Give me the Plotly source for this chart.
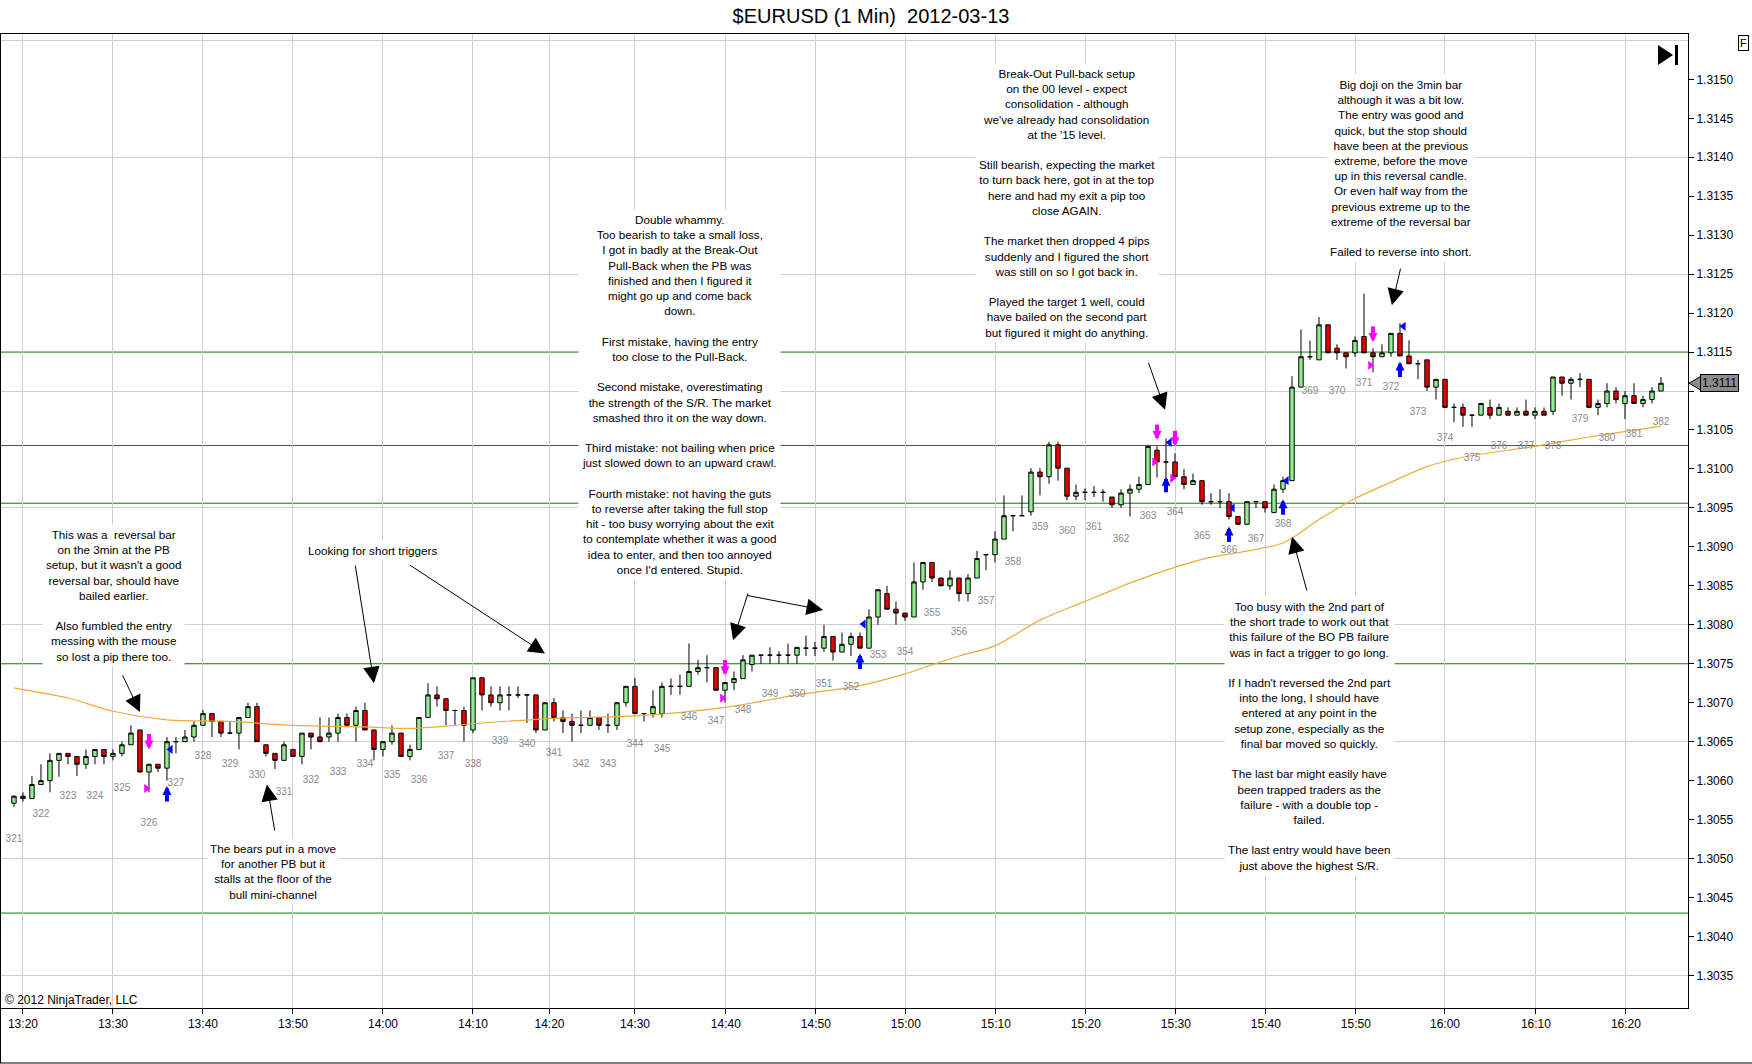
import plotly.graph_objects as go

W, H = 1752, 1064
# plot frame in pixels: left, top, right, bottom
PL, PT, PR, PB = 1, 34, 1688, 1008
FONT = "Liberation Sans, Arial, sans-serif"
GRID = "#cfcfcf"

# ---- 1 min bars, index 0 = 13:19 ----
OPEN = [
    1.30571, 1.30580, 1.30577, 1.30595, 1.30600, 1.30626, 1.30635, 1.30631, 1.30621, 1.30631,
    1.30640, 1.30631, 1.30635, 1.30646, 1.30665, 1.30611, 1.30621, 1.30616, 1.30650, 1.30650,
    1.30656, 1.30671, 1.30686, 1.30676, 1.30661, 1.30661, 1.30681, 1.30695, 1.30646, 1.30635,
    1.30626, 1.30640, 1.30631, 1.30661, 1.30656, 1.30656, 1.30661, 1.30681, 1.30671, 1.30690,
    1.30665, 1.30640, 1.30650, 1.30661, 1.30631, 1.30640, 1.30681, 1.30710, 1.30705, 1.30690,
    1.30690, 1.30665, 1.30732, 1.30710, 1.30700, 1.30710, 1.30710, 1.30710, 1.30710, 1.30665,
    1.30700, 1.30681, 1.30676, 1.30671, 1.30671, 1.30681, 1.30671, 1.30671, 1.30700, 1.30721,
    1.30686, 1.30686, 1.30686, 1.30721, 1.30721, 1.30721, 1.30740, 1.30745, 1.30745, 1.30716,
    1.30726, 1.30731, 1.30749, 1.30761, 1.30761, 1.30761, 1.30761, 1.30761, 1.30770, 1.30770,
    1.30770, 1.30785, 1.30765, 1.30775, 1.30785, 1.30770, 1.30810, 1.30840, 1.30820, 1.30815,
    1.30810, 1.30855, 1.30880, 1.30860, 1.30850, 1.30860, 1.30840, 1.30860, 1.30890, 1.30890,
    1.30910, 1.30940, 1.30940, 1.30945, 1.30996, 1.30990, 1.31031, 1.31001, 1.30965, 1.30970,
    1.30970, 1.30970, 1.30964, 1.30954, 1.30969, 1.30974, 1.30980, 1.31024, 1.31009, 1.31009,
    1.30990, 1.30980, 1.30985, 1.30958, 1.30958, 1.30958, 1.30939, 1.30929, 1.30958, 1.30958,
    1.30944, 1.30974, 1.30985, 1.31105, 1.31144, 1.31140, 1.31185, 1.31155, 1.31149, 1.31149,
    1.31170, 1.31149, 1.31144, 1.31149, 1.31174, 1.31145, 1.31135, 1.31140, 1.31105, 1.31115,
    1.31079, 1.31079, 1.31069, 1.31069, 1.31079, 1.31069, 1.31074, 1.31069, 1.31074, 1.31069,
    1.31074, 1.31074, 1.31118, 1.31110, 1.31115, 1.31115, 1.31079, 1.31084, 1.31100, 1.31084,
    1.31094, 1.31084, 1.31089, 1.31100,
]
HIGH = [
    1.30581, 1.30585, 1.30606, 1.30621, 1.30635, 1.30635, 1.30635, 1.30631, 1.30640, 1.30640,
    1.30640, 1.30640, 1.30650, 1.30671, 1.30665, 1.30621, 1.30621, 1.30656, 1.30656, 1.30665,
    1.30676, 1.30691, 1.30686, 1.30676, 1.30676, 1.30681, 1.30700, 1.30700, 1.30646, 1.30635,
    1.30650, 1.30640, 1.30661, 1.30661, 1.30681, 1.30681, 1.30686, 1.30686, 1.30695, 1.30700,
    1.30665, 1.30650, 1.30671, 1.30661, 1.30646, 1.30681, 1.30725, 1.30721, 1.30705, 1.30691,
    1.30695, 1.30732, 1.30732, 1.30721, 1.30721, 1.30721, 1.30721, 1.30710, 1.30710, 1.30700,
    1.30706, 1.30690, 1.30686, 1.30690, 1.30690, 1.30681, 1.30686, 1.30700, 1.30721, 1.30732,
    1.30686, 1.30716, 1.30726, 1.30731, 1.30736, 1.30776, 1.30755, 1.30761, 1.30745, 1.30726,
    1.30740, 1.30761, 1.30761, 1.30761, 1.30771, 1.30766, 1.30776, 1.30771, 1.30786, 1.30778,
    1.30800, 1.30785, 1.30790, 1.30790, 1.30790, 1.30820, 1.30845, 1.30850, 1.30830, 1.30815,
    1.30880, 1.30880, 1.30880, 1.30860, 1.30870, 1.30860, 1.30865, 1.30895, 1.30890, 1.30920,
    1.30966, 1.30940, 1.30966, 1.31001, 1.31001, 1.31035, 1.31035, 1.31001, 1.30980, 1.30975,
    1.30978, 1.30974, 1.30964, 1.30974, 1.30980, 1.30990, 1.31029, 1.31029, 1.31039, 1.31020,
    1.31000, 1.30994, 1.30985, 1.30969, 1.30974, 1.30969, 1.30939, 1.30958, 1.30958, 1.30958,
    1.30980, 1.30990, 1.31119, 1.31179, 1.31165, 1.31195, 1.31185, 1.31160, 1.31149, 1.31170,
    1.31225, 1.31155, 1.31160, 1.31174, 1.31187, 1.31165, 1.31140, 1.31140, 1.31115, 1.31115,
    1.31084, 1.31084, 1.31069, 1.31084, 1.31089, 1.31084, 1.31079, 1.31079, 1.31089, 1.31079,
    1.31079, 1.31118, 1.31118, 1.31118, 1.31123, 1.31115, 1.31089, 1.31110, 1.31105, 1.31100,
    1.31110, 1.31094, 1.31105, 1.31118,
]
LOW = [
    1.30566, 1.30573, 1.30577, 1.30595, 1.30585, 1.30605, 1.30621, 1.30606, 1.30615, 1.30621,
    1.30621, 1.30626, 1.30631, 1.30646, 1.30611, 1.30585, 1.30611, 1.30600, 1.30635, 1.30650,
    1.30650, 1.30671, 1.30656, 1.30656, 1.30661, 1.30640, 1.30681, 1.30650, 1.30631, 1.30615,
    1.30626, 1.30631, 1.30621, 1.30640, 1.30650, 1.30650, 1.30650, 1.30671, 1.30650, 1.30665,
    1.30626, 1.30631, 1.30646, 1.30631, 1.30626, 1.30640, 1.30681, 1.30695, 1.30671, 1.30671,
    1.30650, 1.30661, 1.30690, 1.30695, 1.30690, 1.30690, 1.30706, 1.30674, 1.30661, 1.30665,
    1.30676, 1.30661, 1.30650, 1.30661, 1.30671, 1.30665, 1.30661, 1.30665, 1.30695, 1.30686,
    1.30676, 1.30681, 1.30681, 1.30710, 1.30710, 1.30721, 1.30736, 1.30726, 1.30716, 1.30700,
    1.30716, 1.30731, 1.30740, 1.30750, 1.30750, 1.30750, 1.30750, 1.30750, 1.30760, 1.30760,
    1.30765, 1.30754, 1.30765, 1.30760, 1.30770, 1.30770, 1.30800, 1.30820, 1.30800, 1.30805,
    1.30810, 1.30845, 1.30855, 1.30850, 1.30845, 1.30830, 1.30830, 1.30860, 1.30870, 1.30880,
    1.30910, 1.30920, 1.30940, 1.30940, 1.30966, 1.30981, 1.30985, 1.30960, 1.30960, 1.30960,
    1.30964, 1.30958, 1.30950, 1.30950, 1.30939, 1.30969, 1.30980, 1.30989, 1.30989, 1.30990,
    1.30974, 1.30980, 1.30954, 1.30954, 1.30950, 1.30935, 1.30929, 1.30929, 1.30950, 1.30944,
    1.30944, 1.30969, 1.30985, 1.31105, 1.31140, 1.31140, 1.31149, 1.31140, 1.31129, 1.31144,
    1.31149, 1.31124, 1.31144, 1.31144, 1.31145, 1.31135, 1.31115, 1.31100, 1.31089, 1.31079,
    1.31060, 1.31054, 1.31054, 1.31069, 1.31064, 1.31069, 1.31069, 1.31069, 1.31069, 1.31064,
    1.31069, 1.31069, 1.31094, 1.31089, 1.31105, 1.31079, 1.31069, 1.31079, 1.31084, 1.31064,
    1.31084, 1.31079, 1.31084, 1.31100,
]
CLOSE = [
    1.30580, 1.30577, 1.30595, 1.30600, 1.30626, 1.30635, 1.30631, 1.30621, 1.30631, 1.30640,
    1.30631, 1.30635, 1.30646, 1.30661, 1.30611, 1.30621, 1.30616, 1.30650, 1.30650, 1.30656,
    1.30671, 1.30686, 1.30676, 1.30661, 1.30661, 1.30681, 1.30695, 1.30650, 1.30635, 1.30626,
    1.30646, 1.30631, 1.30661, 1.30656, 1.30650, 1.30661, 1.30681, 1.30671, 1.30690, 1.30665,
    1.30640, 1.30650, 1.30661, 1.30631, 1.30640, 1.30681, 1.30710, 1.30705, 1.30690, 1.30690,
    1.30671, 1.30732, 1.30710, 1.30700, 1.30710, 1.30710, 1.30710, 1.30710, 1.30665, 1.30700,
    1.30681, 1.30676, 1.30671, 1.30671, 1.30681, 1.30671, 1.30671, 1.30700, 1.30721, 1.30686,
    1.30686, 1.30695, 1.30721, 1.30721, 1.30721, 1.30740, 1.30745, 1.30745, 1.30716, 1.30726,
    1.30731, 1.30755, 1.30761, 1.30761, 1.30761, 1.30761, 1.30761, 1.30771, 1.30770, 1.30770,
    1.30785, 1.30765, 1.30775, 1.30785, 1.30770, 1.30810, 1.30845, 1.30820, 1.30815, 1.30810,
    1.30855, 1.30880, 1.30860, 1.30850, 1.30860, 1.30840, 1.30860, 1.30885, 1.30890, 1.30910,
    1.30940, 1.30940, 1.30940, 1.30996, 1.30990, 1.31031, 1.31001, 1.30965, 1.30970, 1.30970,
    1.30970, 1.30970, 1.30954, 1.30969, 1.30974, 1.30980, 1.31029, 1.31009, 1.31009, 1.30990,
    1.30980, 1.30985, 1.30958, 1.30958, 1.30958, 1.30939, 1.30929, 1.30958, 1.30958, 1.30950,
    1.30974, 1.30985, 1.31105, 1.31144, 1.31144, 1.31185, 1.31149, 1.31149, 1.31144, 1.31165,
    1.31149, 1.31144, 1.31149, 1.31174, 1.31145, 1.31135, 1.31135, 1.31105, 1.31115, 1.31079,
    1.31079, 1.31069, 1.31069, 1.31084, 1.31069, 1.31079, 1.31069, 1.31074, 1.31069, 1.31074,
    1.31069, 1.31118, 1.31110, 1.31115, 1.31115, 1.31079, 1.31084, 1.31100, 1.31089, 1.31094,
    1.31084, 1.31089, 1.31100, 1.31110,
]

# orange moving average, read at a few bars
MA_X = [0, 6, 11, 17, 24, 31, 39, 44, 48, 51, 60, 69, 79, 87, 94, 99, 105, 109, 114, 119,
        125, 132, 141, 145, 149, 153, 157, 161, 169, 175, 183]
MA_Y = [1.30719, 1.30706, 1.30689, 1.30678, 1.30676, 1.30671, 1.30669, 1.30667, 1.30670, 1.30673,
        1.30680, 1.30683, 1.30694, 1.30710, 1.30722, 1.30737, 1.30760, 1.30773, 1.30806, 1.30830,
        1.30858, 1.30884, 1.30905, 1.30935, 1.30962, 1.30983, 1.31003, 1.31015, 1.31029, 1.31041,
        1.31055]

# 3 min bar counter printed under every third bar
COUNT_LABELS = [str(n) for n in range(321, 383)]
COUNT_Y = [
    1.30524, 1.30556, 1.30580, 1.30580, 1.30590, 1.30545, 1.30596, 1.30631, 1.30621, 1.30606,
    1.30585, 1.30600, 1.30611, 1.30621, 1.30606, 1.30600, 1.30631, 1.30621, 1.30650, 1.30646,
    1.30635, 1.30621, 1.30621, 1.30646, 1.30640, 1.30681, 1.30676, 1.30690, 1.30710, 1.30710,
    1.30724, 1.30720, 1.30760, 1.30765, 1.30815, 1.30790, 1.30830, 1.30880, 1.30925, 1.30920,
    1.30925, 1.30909, 1.30939, 1.30944, 1.30913, 1.30895, 1.30909, 1.30929, 1.31100, 1.31100,
    1.31110, 1.31105, 1.31073, 1.31039, 1.31014, 1.31029, 1.31029, 1.31029, 1.31064, 1.31039,
    1.31044, 1.31059,
]

# support / resistance lines
SR_LEVELS = [1.3115, 1.3103, 1.30956, 1.3075, 1.3043]

# executions: short entries (down arrows), long entries (up arrows), exits
SHORT_X = [15, 79, 127, 129, 151]
SHORT_Y = [1.30640, 1.30735, 1.31037, 1.31029, 1.31163]
LONG_X = [17, 94, 128, 135, 141, 154]
LONG_Y = [1.30593, 1.30763, 1.30990, 1.30926, 1.30961, 1.31138]
SHORT_EXIT_X = [14.7, 78.7, 126.7, 128.7, 150.7]
SHORT_EXIT_Y = [1.30590, 1.30706, 1.31009, 1.30988, 1.31133]
LONG_EXIT_X = [17.4, 94.4, 128.4, 135.4, 141.4, 154.4]
LONG_EXIT_Y = [1.30640, 1.30801, 1.31034, 1.30950, 1.30985, 1.31183]

TIME_LABELS = ["13:20", "13:30", "13:40", "13:50", "14:00", "14:10", "14:20", "14:30", "14:40",
               "14:50", "15:00", "15:10", "15:20", "15:30", "15:40", "15:50", "16:00", "16:10", "16:20"]
TIME_POS = [1, 11, 21, 31, 41, 51, 59.5, 69, 79.1, 89.1, 99.1, 109.1, 119.1, 129.1, 139.1,
            149.1, 159.0, 169.1, 179.1]

PRICE_TICKS = [1.3035, 1.3040, 1.3045, 1.3050, 1.3055, 1.3060, 1.3065, 1.3070, 1.3075, 1.3080,
               1.3085, 1.3090, 1.3095, 1.3100, 1.3105, 1.3110, 1.3115, 1.3120, 1.3125, 1.3130,
               1.3135, 1.3140, 1.3145, 1.3150]
# the 1.3110 label sits under the last-price flag
PRICE_TEXT = ["" if abs(p - 1.3110) < 1e-9 else f"{p:.4f}" for p in PRICE_TICKS]

LAST_PRICE = 1.3111
X_RANGE = [-1.44, 186.0]
Y_RANGE = [1.303082, 1.315582]

NOTES = [
    (11.1, 1.30838, "This was a  reversal bar<br>on the 3min at the PB<br>setup, but it wasn't a good<br>"
                    "reversal bar, should have<br>bailed earlier.<br><br>Also fumbled the entry<br>"
                    "messing with the mouse<br>so lost a pip there too."),
    (39.8, 1.30895, "Looking for short triggers"),
    (28.8, 1.30483, "The bears put in a move<br>for another PB but it<br>stalls at the floor of the<br>bull mini-channel"),
    (74.0, 1.31096, "Double whammy.<br>Too bearish to take a small loss,<br>I got in badly at the Break-Out<br>"
                    "Pull-Back when the PB was<br>finished and then I figured it<br>might go up and come back<br>"
                    "down.<br><br>First mistake, having the entry<br>too close to the Pull-Back.<br><br>"
                    "Second mistake, overestimating<br>the strength of the S/R. The market<br>"
                    "smashed thro it on the way down.<br><br>Third mistake: not bailing when price<br>"
                    "just slowed down to an upward crawl.<br><br>Fourth mistake: not having the guts<br>"
                    "to reverse after taking the full stop<br>hit - too busy worrying about the exit<br>"
                    "to contemplate whether it was a good<br>idea to enter, and then too annoyed<br>"
                    "once I'd entered. Stupid."),
    (117.0, 1.31341, "Break-Out Pull-back setup<br>on the 00 level - expect<br>consolidation - although<br>"
                     "we've already had consolidation<br>at the '15 level.<br><br>"
                     "Still bearish, expecting the market<br>to turn back here, got in at the top<br>"
                     "here and had my exit a pip too<br>close AGAIN.<br><br>"
                     "The market then dropped 4 pips<br>suddenly and I figured the short<br>"
                     "was still on so I got back in.<br><br>Played the target 1 well, could<br>"
                     "have bailed on the second part<br>but figured it might do anything."),
    (154.1, 1.31386, "Big doji on the 3min bar<br>although it was a bit low.<br>The entry was good and<br>"
                     "quick, but the stop should<br>have been at the previous<br>extreme, before the move<br>"
                     "up in this reversal candle.<br>Or even half way from the<br>previous extreme up to the<br>"
                     "extreme of the reversal bar<br><br>Failed to reverse into short."),
    (143.9, 1.30657, "Too busy with the 2nd part of<br>the short trade to work out that<br>"
                     "this failure of the BO PB failure<br>was in fact a trigger to go long.<br><br>"
                     "If I hadn't reversed the 2nd part<br>into the long, I should have<br>"
                     "entered at any point in the<br>setup zone, especially as the<br>final bar moved so quickly.<br><br>"
                     "The last bar might easily have<br>been trapped traders as the<br>"
                     "failure - with a double top -<br>failed.<br><br>"
                     "The last entry would have been<br>just above the highest S/R."),
]

# pointer arrows: (tail x, tail y, tip x, tip y)
POINTERS = [
    (12.0, 1.30737, 14.0, 1.30688),
    (37.9, 1.30878, 40.0, 1.30725),
    (43.8, 1.30878, 59.0, 1.30763),
    (29.0, 1.30534, 28.1, 1.30595),
    (81.6, 1.30842, 79.9, 1.30780),
    (81.3, 1.30838, 89.9, 1.30819),
    (126.0, 1.31138, 127.9, 1.31076),
    (154.1, 1.31259, 153.1, 1.31210),
    (143.7, 1.30842, 142.0, 1.30913),
]


def px(x):
    return (x - PL) / (PR - PL)


def py(y):
    return (PB - y) / (PB - PT)


bars = list(range(len(OPEN)))
count_x = [3 * i for i in range(len(COUNT_LABELS))]

fig = go.Figure()

fig.add_trace(go.Scatter(x=MA_X, y=MA_Y, mode="lines", line=dict(color="#f2a93b", width=1.2, shape="spline", smoothing=0.8),
                         hoverinfo="skip"))

fig.add_trace(go.Candlestick(
    x=bars, open=OPEN, high=HIGH, low=LOW, close=CLOSE,
    increasing=dict(fillcolor="#90ee90", line=dict(color="black", width=1)),
    decreasing=dict(fillcolor="#e60000", line=dict(color="black", width=1)),
    whiskerwidth=0, hoverinfo="skip",
))

fig.add_trace(go.Scatter(x=count_x, y=COUNT_Y, mode="text", text=COUNT_LABELS, yaxis="y2",
                         textfont=dict(family=FONT, size=10, color="#8a8a8a"), hoverinfo="skip"))

fig.add_trace(go.Scatter(x=SHORT_EXIT_X, y=SHORT_EXIT_Y, mode="markers", yaxis="y2",
                         marker=dict(symbol="triangle-right", size=8, color="#ff00ff"), hoverinfo="skip"))
fig.add_trace(go.Scatter(x=LONG_EXIT_X, y=LONG_EXIT_Y, mode="markers", yaxis="y2",
                         marker=dict(symbol="triangle-left", size=8, color="#0000ff"), hoverinfo="skip"))

for lvl in SR_LEVELS:
    fig.add_shape(type="line", xref="x", yref="y", x0=X_RANGE[0], x1=X_RANGE[1], y0=lvl, y1=lvl,
                  line=dict(color="#008000", width=1), layer="below")

annotations = []
for x, y, txt in NOTES:
    annotations.append(dict(x=x, y=y, xref="x", yref="y", text=txt, showarrow=False, align="center",
                            font=dict(family=FONT, size=11.7, color="black"), bgcolor="white", borderpad=3))

for x0, y0, x1, y1 in POINTERS:
    annotations.append(dict(x=x1, y=y1, ax=x0, ay=y0, xref="x", yref="y", axref="x", ayref="y", text="",
                            showarrow=True, arrowhead=2, arrowsize=3.3, arrowwidth=1, arrowcolor="black",
                            standoff=0, startstandoff=0))

for x, y in zip(SHORT_X, SHORT_Y):
    annotations.append(dict(x=x, y=y, xref="x", yref="y", ax=0, ay=-17, text="", showarrow=True,
                            arrowhead=2, arrowsize=0.45, arrowwidth=4, arrowcolor="#ff00ff", standoff=0))
for x, y in zip(LONG_X, LONG_Y):
    annotations.append(dict(x=x, y=y, xref="x", yref="y", ax=0, ay=17, text="", showarrow=True,
                            arrowhead=2, arrowsize=0.45, arrowwidth=4, arrowcolor="#0000ff", standoff=0))

# last price flag on the price axis
annotations.append(dict(x=px(1700), y=LAST_PRICE, xref="paper", yref="y", xanchor="left", yanchor="middle",
                        text="1.3111", showarrow=False, bgcolor="#8c8c8c", bordercolor="black", borderwidth=1,
                        borderpad=1, font=dict(family=FONT, size=12, color="black")))
annotations.append(dict(x=px(1743), y=py(43), xref="paper", yref="paper", xanchor="center", yanchor="middle",
                        text="F", showarrow=False, bgcolor="white", bordercolor="black", borderwidth=1,
                        borderpad=1, font=dict(family=FONT, size=11, color="black")))
annotations.append(dict(x=px(3), y=py(1000), xref="paper", yref="paper", xanchor="left", yanchor="middle",
                        text="\u00a9 2012 NinjaTrader, LLC", showarrow=False,
                        font=dict(family=FONT, size=12, color="black")))

yp_last = (LAST_PRICE - Y_RANGE[0]) / (Y_RANGE[1] - Y_RANGE[0])
dy = 7 / (PB - PT)
shapes = [
    dict(type="path", xref="paper", yref="paper", fillcolor="#8c8c8c", line=dict(color="black", width=1),
         path=f"M {px(1689)},{yp_last} L {px(1701)},{yp_last + dy} L {px(1701)},{yp_last - dy} Z"),
    dict(type="path", xref="paper", yref="paper", fillcolor="black", line=dict(width=0),
         path=f"M {px(1658)},{py(45)} L {px(1658)},{py(65)} L {px(1673)},{py(55)} Z"),
    dict(type="rect", xref="paper", yref="paper", x0=px(1675), x1=px(1678), y0=py(65), y1=py(45),
         fillcolor="black", line=dict(width=0)),
    dict(type="line", xref="paper", yref="paper", x0=px(0.5), x1=px(0.5), y0=py(PT), y1=py(H - 1),
         line=dict(color="black", width=1)),
    dict(type="line", xref="paper", yref="paper", x0=px(0), x1=px(W), y0=py(H - 1), y1=py(H - 1),
         line=dict(color="black", width=1)),
]
for s in shapes:
    fig.add_shape(**s)

fig.update_layout(
    width=W, height=H,
    margin=dict(l=PL, r=W - PR, t=PT, b=H - PB, pad=0),
    paper_bgcolor="white", plot_bgcolor="white",
    showlegend=False, hovermode=False,
    title=dict(text="$EURUSD (1 Min)\u00a0\u00a02012-03-13", x=871 / W, y=1 - 16 / H, xanchor="center",
               yanchor="middle", font=dict(family=FONT, size=20, color="black")),
    xaxis=dict(range=X_RANGE, tickvals=TIME_POS, ticktext=TIME_LABELS, showgrid=True, gridcolor=GRID,
               zeroline=False, showline=True, linecolor="black", linewidth=1, mirror=True,
               ticks="outside", ticklen=5, tickcolor="black",
               tickfont=dict(family=FONT, size=12, color="black"), rangeslider=dict(visible=False)),
    yaxis=dict(range=Y_RANGE, side="right", tick0=1.3035, dtick=0.0015, showticklabels=False, ticks="",
               showgrid=True, gridcolor=GRID, zeroline=False, showline=True, linecolor="black", mirror=True),
    yaxis2=dict(range=Y_RANGE, overlaying="y", side="right", tickvals=PRICE_TICKS, ticktext=PRICE_TEXT,
                ticks="outside", ticklen=5, tickcolor="black", showgrid=False, zeroline=False, showline=False,
                tickfont=dict(family=FONT, size=12, color="black")),
    annotations=annotations,
)

fig.write_html("out.html", config={"displayModeBar": False},
               post_script="document.body.style.margin='0px';")
